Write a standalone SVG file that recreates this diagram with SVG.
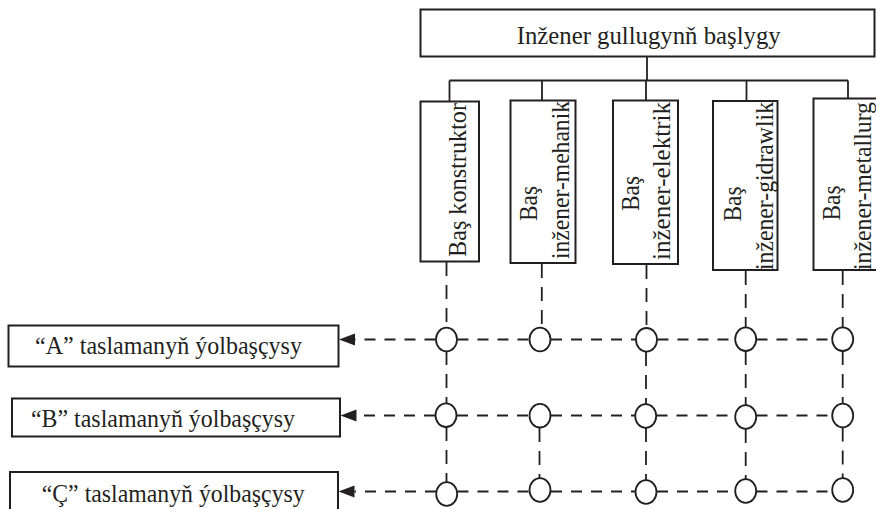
<svg xmlns="http://www.w3.org/2000/svg" width="876" height="509" viewBox="0 0 876 509">
<style>
  .box { fill: #fff; stroke: #231f20; stroke-width: 2; }
  .t { font-family: "Liberation Serif", "Times New Roman", serif; font-size: 26px; fill: #231f20; }
  .solid { stroke: #231f20; stroke-width: 1.8; fill: none; }
  .hd { stroke: #231f20; stroke-width: 1.8; fill: none; stroke-dasharray: 11 9; }
  .vd { stroke: #231f20; stroke-width: 1.8; fill: none; stroke-dasharray: 14 9; }
  .node { fill: #fff; stroke: #231f20; stroke-width: 1.8; }
</style>
<defs>
  <marker id="arr" markerUnits="userSpaceOnUse" markerWidth="17" markerHeight="13" refX="0" refY="6.5" orient="auto">
    <path d="M0,0.5 L16,6.5 L0,12.5 z" fill="#231f20"/>
  </marker>
</defs>
<rect width="876" height="509" fill="#fff"/>

<g id="connectors">
  <path class="solid" d="M647,56 V80.5 M449.5,80.5 H848 M449.5,80.5 V101 M542,80.5 V100 M646,80.5 V100 M746.5,80.5 V101 M848,80.5 V98"/>
  <path class="vd" d="M446.5,262 V327 M446.5,351 V403 M446.5,427 V482"/>
  <path class="vd" d="M541.8,264 V327 M539.5,428 V478"/>
  <path class="vd" d="M646.5,265 V328 M646,352 V404 M646,428 V480"/>
  <path class="vd" d="M745.7,271 V327 M745.7,351 V405 M745.7,429 V479"/>
  <path class="vd" d="M842.7,271 V327 M842.7,351 V403.5 M842.7,427.5 V478"/>
  <path class="hd" d="M457.5,339.5 H529.5 M551,339.5 H636 M657.5,339.5 H735 M756.5,339.5 H832"/>
  <path class="hd" d="M457,415.5 H529.5 M551,415.5 H635 M656.5,415.5 H735 M756.5,415.5 H832"/>
  <path class="hd" d="M457.5,491.5 H529.5 M551,491.5 H635.5 M657,491.5 H735 M756.5,491.5 H832"/>
  <line class="hd" x1="435.5" y1="339.5" x2="355" y2="339.5" marker-end="url(#arr)"/>
  <line class="hd" x1="435" y1="415.5" x2="356.5" y2="415.5" marker-end="url(#arr)"/>
  <line class="hd" x1="436" y1="491.5" x2="354.5" y2="491.5" marker-end="url(#arr)"/>
</g>

<g id="chief">
  <rect class="box" x="420.5" y="9.5" width="454" height="47"/>
  <text class="t" x="516.7" y="43.5" textLength="264" lengthAdjust="spacingAndGlyphs">Inžener gullugynň başlygy</text>
</g>

<g id="konstruktor">
  <rect class="box" x="420.5" y="101.5" width="58.5" height="160"/>
  <text class="t" transform="translate(466,257) rotate(-90)" textLength="154" lengthAdjust="spacingAndGlyphs">Baş konstruktor</text>
</g>
<g id="mehanik">
  <rect class="box" x="510.5" y="100.5" width="65" height="162.5"/>
  <text class="t" transform="translate(537,221) rotate(-90)" textLength="35" lengthAdjust="spacingAndGlyphs">Baş</text>
  <text class="t" transform="translate(569,259) rotate(-90)" textLength="158" lengthAdjust="spacingAndGlyphs">inžener-mehanik</text>
</g>
<g id="elektrik">
  <rect class="box" x="613" y="100.5" width="65" height="163.5"/>
  <text class="t" transform="translate(639,211) rotate(-90)" textLength="35" lengthAdjust="spacingAndGlyphs">Baş</text>
  <text class="t" transform="translate(670,260) rotate(-90)" textLength="158" lengthAdjust="spacingAndGlyphs">inžener-elektrik</text>
</g>
<g id="gidrawlik">
  <rect class="box" x="713" y="101" width="64.5" height="169"/>
  <text class="t" transform="translate(741,221.5) rotate(-90)" textLength="35" lengthAdjust="spacingAndGlyphs">Baş</text>
  <text class="t" transform="translate(773,270) rotate(-90)" textLength="168" lengthAdjust="spacingAndGlyphs">inžener-gidrawlik</text>
</g>
<g id="metallurg">
  <rect class="box" x="813.5" y="98.5" width="64" height="171.5"/>
  <text class="t" transform="translate(840,220.5) rotate(-90)" textLength="35" lengthAdjust="spacingAndGlyphs">Baş</text>
  <text class="t" transform="translate(871,270) rotate(-90)" textLength="168" lengthAdjust="spacingAndGlyphs">inžener-metallurg</text>
</g>

<g id="nodes">
  <ellipse class="node" cx="446.5" cy="339.5" rx="10.5" ry="11.8"/>
  <ellipse class="node" cx="540" cy="339.5" rx="10.5" ry="11.8"/>
  <ellipse class="node" cx="646.5" cy="339.8" rx="10.5" ry="11.8"/>
  <ellipse class="node" cx="745.7" cy="339.2" rx="10.5" ry="11.8"/>
  <ellipse class="node" cx="842.7" cy="339.2" rx="10.5" ry="11.8"/>
  <ellipse class="node" cx="446" cy="415.2" rx="10.5" ry="11.8"/>
  <ellipse class="node" cx="540" cy="415.7" rx="10.5" ry="11.8"/>
  <ellipse class="node" cx="645.7" cy="416" rx="10.5" ry="11.8"/>
  <ellipse class="node" cx="745.7" cy="417" rx="10.5" ry="11.8"/>
  <ellipse class="node" cx="842.7" cy="415.5" rx="10.5" ry="11.8"/>
  <ellipse class="node" cx="446.7" cy="494" rx="10.5" ry="11.8"/>
  <ellipse class="node" cx="540" cy="490" rx="10.5" ry="11.8"/>
  <ellipse class="node" cx="646" cy="492" rx="10.5" ry="11.8"/>
  <ellipse class="node" cx="745.7" cy="491" rx="10.5" ry="11.8"/>
  <ellipse class="node" cx="842.7" cy="490" rx="10.5" ry="11.8"/>
</g>

<g id="leaderA">
  <rect class="box" x="8.5" y="325.5" width="330" height="41"/>
  <text class="t" x="35" y="353.5" textLength="267" lengthAdjust="spacingAndGlyphs">“A” taslamanyň ýolbaşçysy</text>
</g>
<g id="leaderB">
  <rect class="box" x="12" y="398.5" width="328" height="38"/>
  <text class="t" x="31" y="426.7" textLength="264" lengthAdjust="spacingAndGlyphs">“B” taslamanyň ýolbaşçysy</text>
</g>
<g id="leaderC">
  <rect class="box" x="10" y="472" width="328" height="45"/>
  <text class="t" x="41.7" y="501.7" textLength="263" lengthAdjust="spacingAndGlyphs">“Ç” taslamanyň ýolbaşçysy</text>
</g>
</svg>
